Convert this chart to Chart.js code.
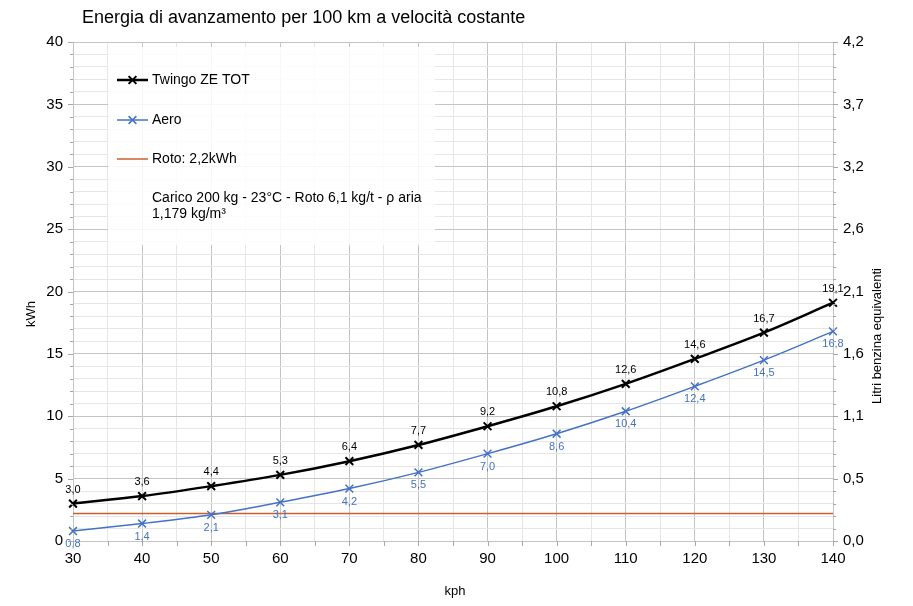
<!DOCTYPE html>
<html>
<head>
<meta charset="utf-8">
<script src="https://cdn.jsdelivr.net/npm/chart.js@4.4.1/dist/chart.umd.min.js"></script>
<style>
  html, body { margin: 0; padding: 0; background: #ffffff; }
  #wrap { width: 913px; height: 606px; }
</style>
</head>
<body>
<div id="wrap"><canvas id="energyChart" width="913" height="606"></canvas></div>
<script>
// ===================================
// Data
// ===================================
const speeds = [30, 40, 50, 60, 70, 80, 90, 100, 110, 120, 130, 140];
const twingoKwh = [3.0, 3.6, 4.4, 5.3, 6.4, 7.7, 9.2, 10.8, 12.6, 14.6, 16.7, 19.1];
const aeroKwh = [0.8, 1.4, 2.1, 3.1, 4.2, 5.5, 7.0, 8.6, 10.4, 12.4, 14.5, 16.8];
const rotoKwh = [2.2, 2.2, 2.2, 2.2, 2.2, 2.2, 2.2, 2.2, 2.2, 2.2, 2.2, 2.2];
const rightTickLabels = ['0,0', '0,5', '1,1', '1,6', '2,1', '2,6', '3,2', '3,7', '4,2'];

const titleText = 'Energia di avanzamento per 100 km a velocità costante';
const noteLines = ['Carico 200 kg - 23°C - Roto 6,1 kg/t - ρ aria', '1,179 kg/m³'];

const FONT = '"Liberation Sans", Arial, Helvetica, sans-serif';
const BLACK = '#000000';
const BLUE = '#4472c4';
const ROTO = '#c8602e';
const GRID_MAJOR = '#c4c4c4';
const GRID_MINOR = '#e6e6e6';
const TICK_COLOR = '#a6a6a6';

function fmt(v) {
    return v.toFixed(1).replace('.', ',');
}

function toPoints(values) {
    return speeds.map((s, i) => ({ x: s, y: values[i] }));
}

// ===================================
// Plugins
// ===================================

// tick marks: longer at the labelled values, short on the minor ones
const tickMarks = {
    id: 'tickMarks',
    afterDraw(chart) {
        const ctx = chart.ctx;
        const area = chart.chartArea;
        ctx.save();
        ctx.strokeStyle = TICK_COLOR;
        ctx.lineWidth = 1;
        ctx.beginPath();
        chart.scales.y.ticks.forEach(t => {
            const py = Math.round(chart.scales.y.getPixelForValue(t.value)) + 0.5;
            const len = t.value % 5 === 0 ? 5 : 3;
            ctx.moveTo(area.left - len, py);
            ctx.lineTo(area.left, py);
            ctx.moveTo(area.right, py);
            ctx.lineTo(area.right + len, py);
        });
        chart.scales.x.ticks.forEach(t => {
            const px = Math.round(chart.scales.x.getPixelForValue(t.value)) + 0.5;
            ctx.moveTo(px, area.bottom);
            ctx.lineTo(px, area.bottom + 5);
        });
        ctx.stroke();
        ctx.restore();
    }
};

// legend box, title and axis titles
const legendBox = {
    id: 'legendBox',
    beforeDatasetsDraw(chart) {
        const ctx = chart.ctx;
        const area = chart.chartArea;
        const bx = area.left + 35;
        const by = area.top + 5;
        ctx.save();
        ctx.fillStyle = 'rgba(255,255,255,0.86)';
        ctx.fillRect(bx, by, 327, 198);

        const items = [
            { label: 'Twingo ZE TOT', ds: chart.data.datasets[0], y: by + 33 },
            { label: 'Aero', ds: chart.data.datasets[1], y: by + 73 },
            { label: 'Roto: 2,2kWh', ds: chart.data.datasets[2], y: by + 112 }
        ];
        const x0 = bx + 9;
        const x1 = bx + 40;
        items.forEach(it => {
            ctx.strokeStyle = it.ds.borderColor;
            ctx.lineWidth = it.ds.borderWidth;
            ctx.beginPath();
            ctx.moveTo(x0, it.y);
            ctx.lineTo(x1, it.y);
            ctx.stroke();
            if (it.ds.pointRadius > 0) {
                ctx.lineWidth = it.ds.pointBorderWidth;
                Chart.helpers.drawPoint(ctx, {
                    pointStyle: it.ds.pointStyle,
                    radius: it.ds.pointRadius,
                    rotation: 0,
                    borderWidth: it.ds.pointBorderWidth
                }, (x0 + x1) / 2, it.y);
            }
            ctx.fillStyle = '#000';
            ctx.font = '14px ' + FONT;
            ctx.textBaseline = 'middle';
            ctx.textAlign = 'left';
            ctx.fillText(it.label, x1 + 4, it.y);
        });
        ctx.fillStyle = '#000';
        ctx.font = '14px ' + FONT;
        ctx.fillText(noteLines[0], x1 + 4, by + 151);
        ctx.fillText(noteLines[1], x1 + 4, by + 167);
        ctx.restore();
    },
    afterDraw(chart) {
        const ctx = chart.ctx;
        const area = chart.chartArea;
        ctx.save();
        ctx.fillStyle = '#000';
        ctx.textBaseline = 'middle';

        // chart title
        ctx.font = '18px ' + FONT;
        ctx.textAlign = 'left';
        ctx.fillText(titleText, area.left + 9, 18);

        // axis titles
        ctx.font = '13px ' + FONT;
        ctx.textAlign = 'center';
        ctx.fillText('kph', (area.left + area.right) / 2 + 2, area.bottom + 50);

        ctx.save();
        ctx.translate(31, area.top + 272);
        ctx.rotate(-Math.PI / 2);
        ctx.fillText('kWh', 0, 0);
        ctx.restore();

        ctx.save();
        ctx.translate(area.right + 44, area.top + 294);
        ctx.rotate(-Math.PI / 2);
        ctx.fillText('Litri benzina equivalenti', 0, 0);
        ctx.restore();

        ctx.restore();
    }
};

// value labels: black above the points, blue below
const valueLabels = {
    id: 'valueLabels',
    afterDatasetsDraw(chart) {
        const ctx = chart.ctx;
        ctx.save();
        ctx.font = '11px ' + FONT;
        ctx.textAlign = 'center';
        ctx.textBaseline = 'middle';
        [[0, -14, BLACK], [1, 13, BLUE]].forEach(([idx, dy, color]) => {
            const meta = chart.getDatasetMeta(idx);
            const values = chart.data.datasets[idx].data;
            ctx.fillStyle = color;
            meta.data.forEach((pt, i) => {
                ctx.fillText(fmt(values[i].y), pt.x, pt.y + dy);
            });
        });
        ctx.restore();
    }
};

// ===================================
// Chart
// ===================================
const ctx = document.getElementById('energyChart').getContext('2d');
Chart.defaults.font.family = FONT;
Chart.defaults.color = '#000';

const energyChart = new Chart(ctx, {
    type: 'line',
    data: {
        datasets: [{
            label: 'Twingo ZE TOT',
            data: toPoints(twingoKwh),
            borderColor: BLACK,
            backgroundColor: BLACK,
            borderWidth: 2.5,
            pointStyle: 'crossRot',
            pointRadius: 5.5,
            pointBorderWidth: 2,
            pointBorderColor: BLACK,
            tension: 0.35,
            clip: false,
            order: 1
        }, {
            label: 'Aero',
            data: toPoints(aeroKwh),
            borderColor: BLUE,
            backgroundColor: BLUE,
            borderWidth: 1.5,
            pointStyle: 'crossRot',
            pointRadius: 5.5,
            pointBorderWidth: 1.5,
            pointBorderColor: BLUE,
            tension: 0.35,
            clip: false,
            order: 2
        }, {
            label: 'Roto: 2,2kWh',
            data: toPoints(rotoKwh),
            borderColor: ROTO,
            backgroundColor: ROTO,
            borderWidth: 1.5,
            pointRadius: 0,
            tension: 0,
            order: 3
        }]
    },
    options: {
        responsive: false,
        animation: false,
        layout: { padding: { top: 42, left: 0, right: 0, bottom: 0 } },
        plugins: {
            legend: { display: false },
            title: { display: false },
            tooltip: { enabled: false }
        },
        scales: {
            x: {
                type: 'linear',
                min: 30,
                max: 140,
                afterFit: s => { s.height = 65; },
                ticks: {
                    stepSize: 5,
                    autoSkip: false,
                    maxRotation: 0,
                    padding: 9,
                    font: { size: 15 },
                    callback: v => (v % 10 === 0 ? String(v) : '')
                },
                grid: {
                    drawTicks: false,
                    color: c => (c.tick && c.tick.value % 10 === 0 ? GRID_MAJOR : GRID_MINOR)
                },
                border: { color: GRID_MAJOR }
            },
            y: {
                position: 'left',
                min: 0,
                max: 40,
                afterFit: s => { s.width = 73; },
                ticks: {
                    stepSize: 1,
                    autoSkip: false,
                    maxTicksLimit: 100,
                    padding: 10,
                    font: { size: 15 },
                    callback: v => (v % 5 === 0 ? String(v) : '')
                },
                grid: {
                    drawTicks: false,
                    color: c => (c.tick && c.tick.value % 5 === 0 ? GRID_MAJOR : GRID_MINOR)
                },
                border: { color: GRID_MAJOR }
            },
            y1: {
                position: 'right',
                min: 0,
                max: 40,
                afterFit: s => { s.width = 80; },
                ticks: {
                    stepSize: 1,
                    autoSkip: false,
                    maxTicksLimit: 100,
                    padding: 10,
                    font: { size: 15 },
                    callback: v => (v % 5 === 0 ? rightTickLabels[v / 5] : '')
                },
                grid: { drawOnChartArea: false, drawTicks: false },
                border: { color: GRID_MAJOR }
            }
        }
    },
    plugins: [legendBox, valueLabels, tickMarks]
});
</script>
</body>
</html>
